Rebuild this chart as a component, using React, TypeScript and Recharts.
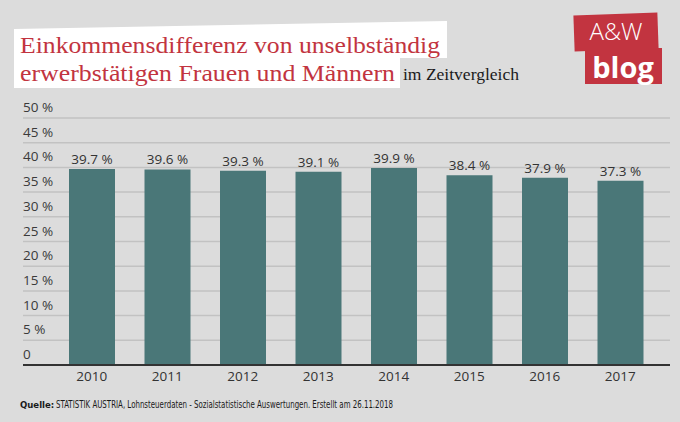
import { BarChart, Bar, XAxis, YAxis, CartesianGrid, LabelList } from "recharts";

const years = ["2010", "2011", "2012", "2013", "2014", "2015", "2016", "2017"];
const gap = [39.7, 39.6, 39.3, 39.1, 39.9, 38.4, 37.9, 37.3];
const yTicks = [0, 5, 10, 15, 20, 25, 30, 35, 40, 45, 50];

const data = years.map((y, i) => ({ year: y, gap: gap[i] }));

const fmt = (v: number) => `${v} %`;

function YTick(props: any) {
  const { x, y, payload } = props;
  return (
    <text x={x} y={y - 6} fill="#3a3a3a" fontSize={13.5} fontFamily="'Open Sans', sans-serif">
      {payload.value === 0 ? "0" : `${payload.value} %`}
    </text>
  );
}

export default function App() {
  return (
    <div
      style={{
        position: "fixed",
        left: 0,
        top: 0,
        width: 680,
        height: 422,
        background: "#dcdcdc",
        overflow: "hidden",
      }}
    >
      <BarChart
        width={680}
        height={422}
        data={data}
        margin={{ top: 118, right: 10, left: -17, bottom: 27 }}
        style={{ position: "absolute", left: 0, top: 0 }}
      >
        <CartesianGrid vertical={false} stroke="#c2c2c2" strokeWidth={1.5} />
        <YAxis
          width={40}
          domain={[0, 50]}
          ticks={yTicks}
          interval={0}
          axisLine={false}
          tickLine={false}
          tickSize={0}
          tickMargin={0}
          tick={<YTick />}
        />
        <XAxis
          dataKey="year"
          height={30}
          padding={{ left: 31, right: 12 }}
          axisLine={{ stroke: "#333", strokeWidth: 2 }}
          tickLine={false}
          tickSize={4}
          tickMargin={2}
          tick={{ fill: "#333", fontSize: 13.5, fontFamily: "'Open Sans', sans-serif" }}
        />
        <Bar dataKey="gap" fill="#4a7778" barSize={46} isAnimationActive={false}>
          <LabelList
            dataKey="gap"
            position="top"
            offset={5}
            formatter={fmt}
            fill="#333"
            fontSize={13.5}
            fontFamily="'Open Sans', sans-serif"
          />
        </Bar>
      </BarChart>

      <svg
        width={680}
        height={422}
        style={{ position: "absolute", left: 0, top: 0, pointerEvents: "none" }}
      >
        {/* title boxes */}
        <polygon points="14,29 447,21 447,58 14,58" fill="#fff" />
        <rect x={14} y={57} width={386} height={31} fill="#fff" />
        <text
          x={20}
          y={53}
          fill="#c23440"
          fontSize={24}
          fontFamily="'Liberation Serif', serif"
          textLength={420}
          lengthAdjust="spacingAndGlyphs"
        >
          Einkommensdifferenz von unselbständig
        </text>
        <text
          x={20}
          y={81}
          fill="#c23440"
          fontSize={24}
          fontFamily="'Liberation Serif', serif"
          textLength={375}
          lengthAdjust="spacingAndGlyphs"
        >
          erwerbstätigen Frauen und Männern
        </text>
        <text
          x={403}
          y={80}
          fill="#1a1a1a"
          fontSize={16}
          fontFamily="'Liberation Serif', serif"
          textLength={116}
          lengthAdjust="spacingAndGlyphs"
        >
          im Zeitvergleich
        </text>

        {/* logo */}
        <g transform="rotate(-2 615 32)">
          <rect x={574} y={14} width={84} height={36} fill="#c23440" />
        </g>
        <rect x={585} y={48} width={77} height={36} fill="#c23440" />
        <text
          x={616}
          y={40}
          textAnchor="middle"
          fill="#fff"
          fontSize={24}
          fontFamily="'Open Sans', sans-serif"
          fontWeight={300}
        >
          A&amp;W
        </text>
        <text
          x={623}
          y={78}
          textAnchor="middle"
          fill="#fff"
          fontSize={29}
          fontFamily="'Open Sans', sans-serif"
          fontWeight={700}
        >
          blog
        </text>

        {/* source */}
        <text
          x={20}
          y={408}
          fill="#1a1a1a"
          fontSize={9.5}
          fontWeight={700}
          fontFamily="'Liberation Sans Narrow', 'DejaVu Sans Condensed', sans-serif"
        >
          Quelle:
        </text>
        <text
          x={56}
          y={408}
          fill="#1a1a1a"
          fontSize={10.5}
          fontFamily="'Liberation Sans Narrow', 'DejaVu Sans Condensed', sans-serif"
          textLength={337}
          lengthAdjust="spacingAndGlyphs"
        >
          STATISTIK AUSTRIA, Lohnsteuerdaten - Sozialstatistische Auswertungen. Erstellt am 26.11.2018
        </text>
      </svg>
    </div>
  );
}
